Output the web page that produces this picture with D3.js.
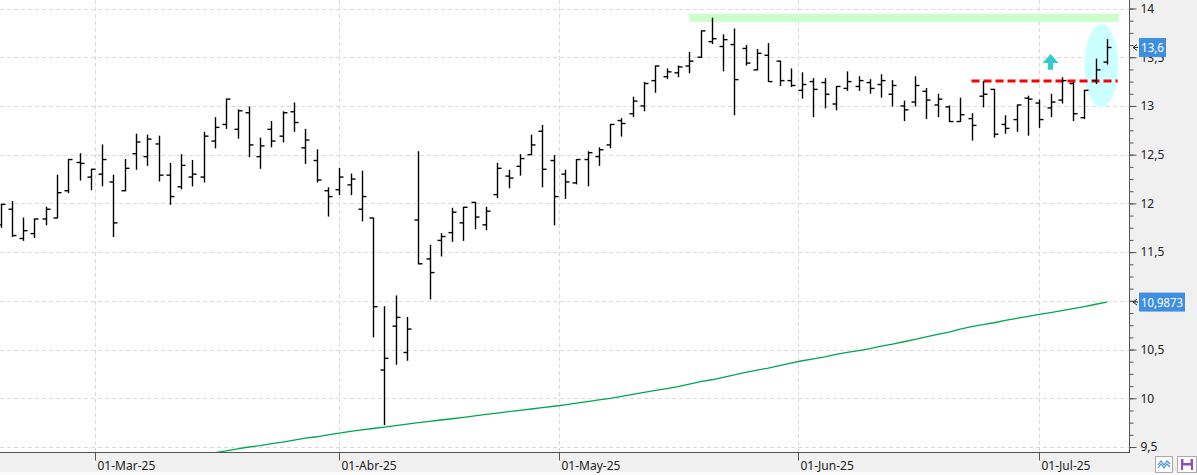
<!DOCTYPE html>
<html><head><meta charset="utf-8">
<script src="https://cdn.jsdelivr.net/npm/d3@7"></script>
<style>
body{margin:0;background:#fff;}
svg{display:block;font-family:"Noto Sans","Open Sans",sans-serif;}
</style>
</head><body>
<svg id="c" width="1197" height="475"></svg>
<script>
// ---------- DATA ----------
const dates = [
"2025-02-18","2025-02-19","2025-02-20","2025-02-21","2025-02-24","2025-02-25","2025-02-26","2025-02-27","2025-02-28",
"2025-03-03","2025-03-04","2025-03-05","2025-03-06","2025-03-07","2025-03-10","2025-03-11","2025-03-12","2025-03-13","2025-03-14",
"2025-03-17","2025-03-18","2025-03-19","2025-03-20","2025-03-21","2025-03-24","2025-03-25","2025-03-26","2025-03-27","2025-03-28","2025-03-31",
"2025-04-01","2025-04-02","2025-04-03","2025-04-04","2025-04-07","2025-04-08","2025-04-09","2025-04-10","2025-04-11",
"2025-04-14","2025-04-15","2025-04-16","2025-04-17","2025-04-22","2025-04-23","2025-04-24","2025-04-25","2025-04-28","2025-04-29","2025-04-30",
"2025-05-02","2025-05-05","2025-05-06","2025-05-07","2025-05-08","2025-05-09","2025-05-12","2025-05-13","2025-05-14","2025-05-15","2025-05-16",
"2025-05-19","2025-05-20","2025-05-21","2025-05-22","2025-05-23","2025-05-26","2025-05-27","2025-05-28","2025-05-29","2025-05-30",
"2025-06-02","2025-06-03","2025-06-04","2025-06-05","2025-06-06","2025-06-09","2025-06-10","2025-06-11","2025-06-12","2025-06-13",
"2025-06-16","2025-06-17","2025-06-18","2025-06-19","2025-06-20","2025-06-23","2025-06-24","2025-06-25","2025-06-26","2025-06-27","2025-06-30",
"2025-07-01","2025-07-02","2025-07-03","2025-07-04","2025-07-07","2025-07-08","2025-07-09"
];
const open = [11.78,11.94,11.64,11.69,11.84,11.85,12.13,12.42,12.27,
12.30,12.22,12.13,12.51,12.48,12.61,12.29,12.17,12.27,12.27,12.64,12.81,12.76,12.93,12.48,12.76,12.69,12.94,12.57,12.44,12.13,
12.14,12.19,11.94,11.85,10.29,10.74,10.47,11.83,11.43,11.62,11.70,11.80,12.01,11.78,12.09,12.28,12.38,12.50,12.74,12.44,
12.30,12.21,12.45,12.48,12.60,12.85,12.92,13.00,13.26,13.30,13.34,13.41,13.50,13.66,13.61,13.63,13.59,13.37,13.52,13.46,13.26,
13.16,13.25,13.24,13.02,13.18,13.20,13.24,13.22,13.12,13.00,13.04,13.15,13.01,12.99,12.84,12.87,13.10,13.17,12.81,12.86,13.08,
13.03,12.98,13.06,13.23,12.88,13.26,13.45];
const high = [11.99,12.02,11.85,11.84,11.96,12.29,12.45,12.51,12.35,
12.60,12.29,12.45,12.71,12.70,12.69,12.41,12.50,12.44,12.73,12.88,13.07,12.96,12.99,12.67,12.84,12.94,13.03,12.76,12.55,12.16,
12.36,12.30,12.33,11.85,10.94,11.05,10.83,12.53,11.57,11.69,11.95,11.96,12.01,11.96,12.41,12.34,12.50,12.70,12.80,12.49,
12.34,12.45,12.53,12.57,12.81,12.87,13.09,13.24,13.41,13.38,13.41,13.55,13.77,13.90,13.73,13.79,13.62,13.58,13.64,13.46,13.38,
13.34,13.28,13.28,13.20,13.35,13.30,13.27,13.32,13.26,13.05,13.30,13.18,13.12,13.00,13.08,12.92,13.25,13.17,12.90,13.01,13.10,
13.06,13.12,13.29,13.24,13.16,13.48,13.68];
const low = [11.755,11.66,11.62,11.65,11.78,11.85,12.11,12.24,12.14,
12.18,11.66,12.13,12.35,12.39,12.23,11.99,12.15,12.18,12.22,12.57,12.77,12.67,12.48,12.36,12.58,12.63,12.74,12.41,12.22,11.87,
12.09,12.09,11.82,10.63,9.73,10.35,10.39,11.38,11.02,11.46,11.61,11.62,11.74,11.73,12.06,12.16,12.29,12.50,12.17,11.78,
12.05,12.20,12.18,12.39,12.57,12.69,12.89,12.95,13.14,13.28,13.30,13.34,13.50,13.64,13.36,12.91,13.42,13.37,13.25,13.21,13.20,
13.08,12.89,12.98,12.96,13.16,13.16,13.13,13.09,13.00,12.85,13.00,12.87,12.89,12.84,12.84,12.65,12.99,12.68,12.72,12.74,12.70,
12.78,12.89,13.03,12.85,12.87,13.23,13.43];
const close = [11.99,11.67,11.72,11.84,11.94,12.11,12.45,12.41,12.35,
12.45,11.80,12.36,12.63,12.66,12.29,12.07,12.39,12.30,12.69,12.78,13.07,12.95,12.60,12.59,12.64,12.93,12.83,12.65,12.24,12.07,
12.27,12.25,12.07,10.94,10.41,10.83,10.71,11.38,11.29,11.66,11.91,11.96,11.86,11.92,12.36,12.26,12.46,12.60,12.35,12.07,
12.22,12.45,12.52,12.55,12.81,12.82,13.05,13.23,13.41,13.35,13.40,13.46,13.77,13.69,13.68,13.27,13.44,13.54,13.25,13.26,13.21,
13.22,13.17,13.12,13.20,13.25,13.26,13.18,13.26,13.21,12.96,13.21,13.06,13.07,12.84,12.91,12.80,13.12,12.71,12.77,13.01,13.07,
12.86,13.04,13.26,12.92,13.16,13.37,13.60];
const ma200 = [9.10,9.12,9.14,9.155,9.17,9.19,9.21,9.23,9.245,
9.26,9.28,9.30,9.32,9.335,9.35,9.37,9.39,9.41,9.425,9.443,9.46,9.48,9.50,9.515,9.535,9.55,9.57,9.59,9.605,9.625,
9.643,9.66,9.675,9.69,9.705,9.72,9.735,9.75,9.763,9.777,9.79,9.805,9.82,9.834,9.848,9.862,9.876,9.89,9.904,9.918,
9.933,9.95,9.966,9.983,10.00,10.02,10.04,10.06,10.08,10.10,10.12,10.145,10.17,10.19,10.215,10.24,10.265,10.29,10.31,10.335,10.36,
10.385,10.405,10.425,10.45,10.47,10.49,10.51,10.535,10.555,10.58,10.605,10.63,10.655,10.68,10.71,10.735,10.755,10.775,10.80,10.82,10.84,
10.86,10.88,10.90,10.92,10.94,10.965,10.9873];
const monthStarts = ["2025-03-01","2025-04-01","2025-05-01","2025-06-01","2025-07-01"];
const monthLabels = ["01-Mar-25","01-Abr-25","01-May-25","01-Jun-25","01-Jul-25"];
const yMajor = [9.5,10,10.5,11,11.5,12,12.5,13,13.5,14];
const yMajorLabels = ["9,5","10","10,5","11","11,5","12","12,5","13","13,5","14"];
const lastCloseLabel = "13,6";
const lastMaLabel = "10,9873";
// annotations
const bandLow = 13.862, bandHigh = 13.944, bandStart = "2025-05-19";
const resistLevel = 13.256, resistStart = "2025-06-23";
const arrowDate = "2025-07-02", arrowTop = 13.533, arrowBottom = 13.372;
const ellipseCenter = 13.413, ellipseHalf = 0.428;

// ---------- LAYOUT ----------
const W = 1197, H = 475, plotR = 1130, plotB = 453;
const svg = d3.select("#c");
const n = dates.length;
const x = d3.scaleLinear().domain([0, n - 1]).range([0.5, 1107]);
const y = d3.scaleLinear().domain([9.5, 14]).range([447, 8.5]);
const step = x(1) - x(0);
const idx = d => dates.indexOf(d);
const parse = d3.utcParse("%Y-%m-%d");
const times = dates.map(parse);
function dateToIdx(ds) {
  const t = parse(ds);
  for (let i = 0; i < n - 1; i++) {
    if (t >= times[i] && t <= times[i + 1]) return i + (t - times[i]) / (times[i + 1] - times[i]);
  }
  return t < times[0] ? 0 : n - 1;
}

// backgrounds
svg.append("rect").attr("x", 0).attr("y", 0).attr("width", W).attr("height", H).attr("fill", "#f0f0f0");
svg.append("rect").attr("x", 0).attr("y", 0).attr("width", plotR).attr("height", plotB).attr("fill", "#fff");
svg.append("rect").attr("x", 0).attr("y", 472).attr("width", W).attr("height", 3).attr("fill", "#fbfbfb");

svg.append("defs").append("clipPath").attr("id", "clip")
  .append("rect").attr("x", 0).attr("y", 0).attr("width", plotR).attr("height", plotB);

// grid
const grid = svg.append("g");
grid.selectAll(".hg").data(yMajor).join("line")
  .attr("x1", 0).attr("x2", plotR)
  .attr("y1", d => Math.round(y(d)) + 0.5).attr("y2", d => Math.round(y(d)) + 0.5)
  .attr("stroke", "#dadada").attr("stroke-dasharray", "4,3");
const monthIdx = monthStarts.map(dateToIdx);
grid.selectAll(".vg").data(monthIdx).join("line")
  .attr("x1", d => Math.round(x(d)) + 0.5).attr("x2", d => Math.round(x(d)) + 0.5)
  .attr("y1", 0).attr("y2", plotB)
  .attr("stroke", "#dadada").attr("stroke-dasharray", "4,3");

const plot = svg.append("g").attr("clip-path", "url(#clip)");

// annotations behind bars
plot.append("rect")
  .attr("x", x(idx(bandStart))).attr("y", y(bandHigh))
  .attr("width", x(n - 1 + 1.05) - x(idx(bandStart))).attr("height", y(bandLow) - y(bandHigh))
  .attr("fill", "#ccffcc");
plot.append("ellipse")
  .attr("cx", x(n - 1.5)).attr("cy", y(ellipseCenter))
  .attr("rx", step * 1.5).attr("ry", y(ellipseCenter - ellipseHalf) - y(ellipseCenter))
  .attr("fill", "#ccffff");
plot.append("line")
  .attr("x1", x(idx(resistStart))).attr("x2", x(n - 1 + 0.95))
  .attr("y1", y(resistLevel)).attr("y2", y(resistLevel))
  .attr("stroke", "#ff0000").attr("stroke-width", 3).attr("stroke-dasharray", "8,4");
{
  const ax = x(idx(arrowDate)), t = y(arrowTop), b = y(arrowBottom);
  plot.append("path")
    .attr("d", `M${ax},${t} L${ax + 8},${t + 9} L${ax + 2.5},${t + 9} L${ax + 2.5},${b} L${ax - 2.5},${b} L${ax - 2.5},${t + 9} L${ax - 8},${t + 9} Z`)
    .attr("fill", "#33cccc");
}

// moving average
plot.append("path")
  .datum(ma200)
  .attr("d", d3.line().x((d, i) => x(i)).y(d => y(d)))
  .attr("fill", "none").attr("stroke", "#00a651").attr("stroke-width", 1.3);

// OHLC bars
const bars = plot.append("g").attr("stroke", "#000").attr("stroke-width", 1.4);
const bx = i => Math.round(x(i)) + 0.5;
bars.selectAll(".hl").data(dates).join("line")
  .attr("x1", (d, i) => bx(i)).attr("x2", (d, i) => bx(i))
  .attr("y1", (d, i) => y(high[i]) - 0.5).attr("y2", (d, i) => y(low[i]) + 0.5);
bars.selectAll(".op").data(dates).join("line")
  .attr("x1", (d, i) => bx(i) - 4).attr("x2", (d, i) => bx(i))
  .attr("y1", (d, i) => y(open[i])).attr("y2", (d, i) => y(open[i]));
bars.selectAll(".cl").data(dates).join("line")
  .attr("x1", (d, i) => bx(i)).attr("x2", (d, i) => bx(i) + 4)
  .attr("y1", (d, i) => y(close[i])).attr("y2", (d, i) => y(close[i]));

// axes
const flagValues = [close[n - 1], ma200[n - 1]];
const minor = d3.range(9.5, 14.01, 0.125);
const yAxisMinor = d3.axisRight(y).tickValues(minor).tickSize(4).tickFormat("");
svg.append("g").attr("transform", `translate(${plotR - 0.5},0)`).call(yAxisMinor)
  .call(g => g.select(".domain").remove())
  .selectAll("line").attr("stroke", "#555");
// labels fully hidden behind a value flag (as in the original) are left empty
const yAxis = d3.axisRight(y).tickValues(yMajor).tickSize(7).tickPadding(4)
  .tickFormat((d, i) => flagValues.some(v => Math.abs(y(v) - y(d)) < 6) ? "" : yMajorLabels[i]);
const gy = svg.append("g").attr("transform", `translate(${plotR - 0.5},0)`).call(yAxis);
gy.select(".domain").attr("d", `M0,0V${plotB}`).attr("stroke", "#555");
gy.selectAll("line").attr("stroke", "#555");
gy.selectAll("text").attr("font-size", 12).attr("fill", "#222").attr("font-family", "Noto Sans, sans-serif");

const xAxis = d3.axisBottom(x).tickValues(monthIdx).tickSize(8)
  .tickFormat((d, i) => monthLabels[i]);
const gx = svg.append("g").attr("transform", `translate(0,${plotB - 0.5})`).call(xAxis);
gx.select(".domain").attr("d", `M0,0H${plotR}`).attr("stroke", "#555");
gx.selectAll(".tick line").attr("stroke", "#555");
gx.selectAll(".tick").attr("transform", d => `translate(${Math.round(x(d)) + 0.5},0)`);
gx.selectAll("text").attr("text-anchor", "start").attr("x", 2).attr("y", 17).attr("dy", 0)
  .attr("font-size", 12).attr("fill", "#222").attr("font-family", "Noto Sans, sans-serif");

// value flags on the right axis
function flag(value, label, w) {
  const yy = y(value);
  const g = svg.append("g");
  g.append("path").attr("d", `M${plotR + 7},${yy - 3} L${plotR + 3},${yy} L${plotR + 7},${yy + 3} M${plotR + 3},${yy} H${plotR + 8}`)
    .attr("stroke", "#333").attr("fill", "none").attr("stroke-width", 1);
  g.append("rect").attr("x", 1139).attr("y", yy - 9.5).attr("width", w).attr("height", 19).attr("fill", "#3f8fe0");
  g.append("text").attr("x", 1141).attr("y", yy + 4.5).attr("fill", "#fff").attr("font-size", 12)
    .attr("font-family", "Noto Sans, sans-serif")
    .attr("textLength", w - 4).attr("lengthAdjust", "spacingAndGlyphs").text(label);
}
flag(close[n - 1], lastCloseLabel, 27);
flag(ma200[n - 1], lastMaLabel, 46);

// bottom-right buttons
const b1 = svg.append("g").attr("transform", "translate(1155,456)");
b1.append("rect").attr("x", 0.5).attr("y", 0.5).attr("width", 17).attr("height", 16).attr("fill", "#fff").attr("stroke", "#aaa");
b1.append("path").attr("d", "M3,9 L6,5 L9,9 L12,5 L15,8").attr("stroke", "#4a90d9").attr("fill", "none").attr("stroke-width", 1.2);
b1.append("path").attr("d", "M3,12 L6,8 L9,12 L12,8 L15,11").attr("stroke", "#4a90d9").attr("fill", "none").attr("stroke-width", 1.2);
const b2 = svg.append("g").attr("transform", "translate(1177,456)");
b2.append("rect").attr("x", 0.5).attr("y", 0.5).attr("width", 19).attr("height", 16).attr("fill", "#fff").attr("stroke", "#aaa");
b2.append("rect").attr("x", 4).attr("y", 3).attr("width", 12).attr("height", 11).attr("fill", "#8a4fc8");
b2.append("rect").attr("x", 6.5).attr("y", 3).attr("width", 7).attr("height", 4).attr("fill", "#fff");
b2.append("rect").attr("x", 6).attr("y", 9.5).attr("width", 8).attr("height", 4.5).attr("fill", "#fff");
</script>
</body></html>
